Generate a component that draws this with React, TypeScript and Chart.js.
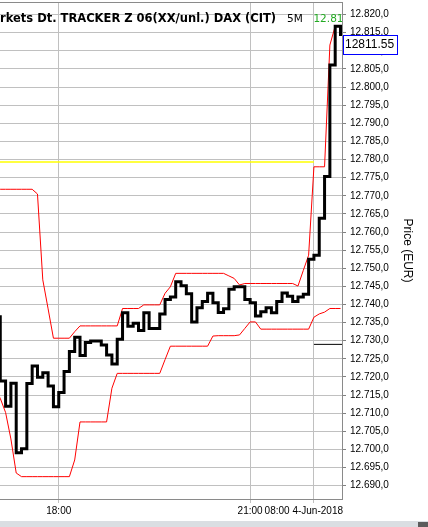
import React, { useEffect, useRef } from 'react';
import { Chart, registerables } from 'chart.js';

Chart.register(...registerables);

// 5-minute bar index: 0 = 18:00, 36 = 21:00, 48 = 08:00 (4-Jun-2018)
const BAR_INDEX = [
  -12, -11, -10, -9, -8, -7, -6, -5, -4, -3, -2, -1,
  0, 1, 2, 3, 4, 5, 6, 7, 8, 9, 10, 11,
  12, 13, 14, 15, 16, 17, 18, 19, 20, 21, 22, 23,
  24, 25, 26, 27, 28, 29, 30, 31, 32, 33, 34, 35,
  36, 37, 38, 39, 40, 41, 42, 43, 44, 45, 46, 47,
  48, 49, 50, 51, 52, 53,
];

const CLOSE = [
  12736.6, 12718.9, 12711.9, 12718.3, 12699.1, 12700.2, 12718.2, 12723.0, 12719.9, 12721.2, 12717.5, 12711.8,
  12715.7, 12721.5, 12727.0, 12731.0, 12725.9, 12729.5, 12729.9, 12729.9, 12728.8, 12726.1, 12723.6, 12730.4,
  12737.7, 12734.0, 12734.8, 12732.8, 12737.7, 12733.4, 12733.4, 12737.4, 12741.4, 12742.1, 12746.3, 12745.2,
  12743.0, 12735.2, 12739.1, 12740.8, 12743.1, 12740.5, 12737.8, 12738.8, 12744.2, 12744.9, 12744.9, 12741.4,
  12740.5, 12736.8, 12738.0, 12739.1, 12737.7, 12740.8, 12743.2, 12742.3, 12740.8, 12742.1, 12742.8, 12752.5,
  12753.6, 12763.8, 12775.3, 12806.1, 12816.8, 12814.1,
];

const UPPER = [
  12771.8, 12771.8, 12771.8, 12771.8, 12771.8, 12771.8, 12771.8, 12771.8, 12770.5, 12746.8, 12738.8, 12730.7,
  12730.7, 12730.7, 12730.7, 12732.5, 12734.1, 12734.1, 12734.1, 12734.1, 12734.1, 12734.1, 12734.1, 12734.1,
  12738.9, 12738.9, 12738.9, 12738.9, 12739.9, 12739.9, 12739.9, 12739.9, 12743.1, 12744.9, 12748.6, 12748.6,
  12748.6, 12748.6, 12748.6, 12748.6, 12748.6, 12748.6, 12748.6, 12748.6, 12747.9, 12747.2, 12745.4, 12745.8,
  12745.8, 12745.8, 12745.8, 12745.8, 12745.8, 12745.8, 12745.8, 12745.8, 12745.8, 12745.1, 12749.4, 12753.6,
  12778.0, 12778.0, 12778.0, 12811.6, 12816.8, 12816.8,
];

const LOWER = [
  12716.5, 12714.1, 12710.2, 12702.9, 12693.5, 12692.5, 12692.5, 12692.5, 12692.5, 12692.5, 12692.5, 12692.5,
  12692.5, 12692.5, 12692.5, 12697.1, 12707.6, 12707.6, 12707.6, 12707.6, 12707.6, 12707.6, 12716.9, 12721.0,
  12721.0, 12721.0, 12721.0, 12721.0, 12721.0, 12721.0, 12721.0, 12721.0, 12724.8, 12728.5, 12728.5, 12728.5,
  12728.5, 12728.5, 12728.5, 12728.5, 12728.5, 12731.3, 12731.4, 12731.4, 12731.4, 12731.4, 12731.6, 12733.4,
  12735.2, 12735.2, 12733.2, 12733.2, 12733.2, 12733.2, 12733.2, 12733.2, 12733.2, 12733.2, 12733.2, 12733.2,
  12736.5, 12737.4, 12737.9, 12738.9, 12738.9, 12738.9,
];

const YELLOW_LEVEL = 12779.3;
const YELLOW_RANGE = [-12, 48];
const BLACK_LEVEL = 12729.0;
const BLACK_RANGE = [48, 54];
const LAST_PRICE = 12811.55;

const Y_TICKS = [
  12690, 12695, 12700, 12705, 12710, 12715, 12720, 12725, 12730, 12735, 12740, 12745, 12750, 12755,
  12760, 12765, 12770, 12775, 12780, 12785, 12790, 12795, 12800, 12805, 12810, 12815, 12820,
];
const X_TICK_VALUES = [0, 36, 48];
const X_TICK_LABELS = ['18:00', '21:00', '08:00 4-Jun-2018'];

const TITLE = 'rkets Dt. TRACKER Z 06(XX/unl.) DAX (CIT)';
const INTERVAL = '5M';
const LAST_LABEL = '12.811,55';
const Y_TITLE = 'Price (EUR)';

const X_MIN = -11.05;
const X_MAX = 53.28;
const Y_MIN = 12686.33;
const Y_MAX = 12823.48;

const SANS = '"Liberation Sans", Arial, sans-serif';

function fmtDe(v: number): string {
  const s = v.toFixed(1);
  const [i, d] = s.split('.');
  return i.replace(/\B(?=(\d{3})+(?!\d))/g, '.') + ',' + d;
}

const pts = (vals: number[]) => BAR_INDEX.map((x, i) => ({ x, y: vals[i] }));

const overlay = {
  id: 'overlay',
  afterDraw(chart: any) {
    const { ctx, chartArea: a, scales } = chart;
    const xs = scales.x;
    const ys = scales.y;
    ctx.save();
    // top border
    ctx.strokeStyle = '#8a8a8a';
    ctx.lineWidth = 1;
    ctx.beginPath();
    ctx.moveTo(a.left, a.top + 0.5);
    ctx.lineTo(a.right + 0.5, a.top + 0.5);
    ctx.stroke();

    // x labels
    ctx.font = '10px ' + SANS;
    ctx.fillStyle = '#000';
    ctx.textBaseline = 'middle';
    ctx.textAlign = 'left';
    X_TICK_VALUES.forEach((v, i) => {
      const label = X_TICK_LABELS[i];
      const w = ctx.measureText(label).width;
      let px = xs.getPixelForValue(v) - w / 2;
      if (px + w > a.right + 1) px = a.right + 1 - w;
      ctx.fillText(label, px, a.bottom + 12);
    });

    // header text clipped to the plot
    ctx.save();
    ctx.beginPath();
    ctx.rect(a.left, a.top, a.right - a.left, a.bottom - a.top);
    ctx.clip();
    ctx.textBaseline = 'alphabetic';
    ctx.fillStyle = '#000';
    ctx.font = 'bold 11.5px "DejaVu Sans", sans-serif';
    ctx.fillText(TITLE, 0, 21.5);
    ctx.font = '10.5px "DejaVu Sans", sans-serif';
    ctx.fillText(INTERVAL, 287, 21.5);
    ctx.fillStyle = '#22aa22';
    ctx.fillText(LAST_LABEL, xs.getPixelForValue(48) - 0.5, 21.5);
    ctx.restore();

    // last price box
    const py = ys.getPixelForValue(LAST_PRICE);
    const top = Math.round(py - 10);
    ctx.fillStyle = '#fff';
    ctx.fillRect(a.right + 1, top, 56, 20);
    ctx.strokeStyle = '#0000ff';
    ctx.lineWidth = 1;
    ctx.strokeRect(a.right + 1.5, top + 0.5, 54, 19);
    ctx.fillStyle = '#000';
    ctx.font = '12px ' + SANS;
    ctx.textBaseline = 'middle';
    ctx.fillText(LAST_PRICE.toFixed(2), a.right + 3, top + 10);

    // scrollbar strip
    ctx.fillStyle = '#dadee2';
    ctx.fillRect(0, 521, chart.width, 6);
    ctx.fillStyle = '#5c5c5c';
    ctx.fillRect(chart.width - 10, 522, 10, 5);
    ctx.restore();
  },
};

export default function App() {
  const ref = useRef<HTMLCanvasElement | null>(null);
  useEffect(() => {
    if (!ref.current) return;
    const chart = new Chart(ref.current, {
      type: 'line',
      data: {
        datasets: [
          { data: pts(CLOSE), borderColor: '#000000', borderWidth: 3, stepped: true, pointRadius: 0, clip: 0, borderJoinStyle: 'miter' },
          { data: pts(UPPER), borderColor: '#ff0000', borderWidth: 1, pointRadius: 0, clip: 0 },
          { data: pts(LOWER), borderColor: '#ff0000', borderWidth: 1, pointRadius: 0, clip: 0 },
          { data: YELLOW_RANGE.map((x) => ({ x, y: YELLOW_LEVEL })), borderColor: '#ffff00', borderWidth: 1.5, pointRadius: 0, clip: 0 },
          { data: BLACK_RANGE.map((x) => ({ x, y: BLACK_LEVEL })), borderColor: '#000000', borderWidth: 1, pointRadius: 0, clip: 0 },
        ],
      } as any,
      options: {
        animation: false,
        responsive: false,
        events: [],
        layout: { padding: { top: 2, left: 0, right: 0, bottom: 0 }, autoPadding: false } as any,
        plugins: { legend: { display: false }, tooltip: { enabled: false }, title: { display: false } },
        scales: {
          x: {
            type: 'linear',
            min: X_MIN,
            max: X_MAX,
            bounds: 'data',
            afterBuildTicks: (s: any) => {
              s.ticks = X_TICK_VALUES.map((v) => ({ value: v }));
            },
            ticks: { display: false },
            grid: { color: '#c0c0c0', tickLength: 4, tickColor: '#c0c0c0' },
            border: { display: true, color: '#8a8a8a' },
            afterFit: (s: any) => {
              s.height = 28;
              s.paddingLeft = 0;
              s.paddingRight = 0;
            },
          },
          y: {
            type: 'linear',
            position: 'right',
            min: Y_MIN,
            max: Y_MAX,
            bounds: 'data',
            afterBuildTicks: (s: any) => {
              s.ticks = Y_TICKS.map((v) => ({ value: v }));
            },
            ticks: {
              autoSkip: false,
              padding: 4,
              color: '#000',
              font: { size: 10, family: SANS },
              callback: (v: any) => fmtDe(Number(v)),
            },
            grid: { color: '#c0c0c0', tickLength: 4, tickColor: '#808080' },
            border: { display: true, color: '#8a8a8a' },
            title: {
              display: true,
              text: Y_TITLE,
              color: '#000',
              font: { size: 12, family: SANS },
              padding: { top: 13, bottom: 0 },
            },
            afterFit: (s: any) => {
              s.width = 86;
              s.paddingTop = 0;
              s.paddingBottom = 0;
            },
          },
        },
      } as any,
      plugins: [overlay],
    });
    return () => chart.destroy();
  }, []);

  return (
    <div style={{ position: 'absolute', left: 0, top: 0, width: 428, height: 527, background: '#fff' }}>
      <canvas ref={ref} width={428} height={527} style={{ display: 'block', width: 428, height: 527 }} />
    </div>
  );
}
